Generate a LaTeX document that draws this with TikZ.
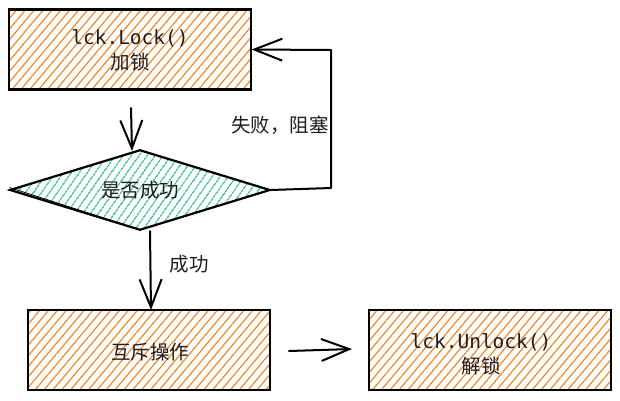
\documentclass[tikz,border=0pt]{standalone}
\usepackage{fontspec}
\newfontfamily\cjk{Noto Sans CJK SC}
\newfontfamily\mono{DejaVu Sans Mono}
\newcommand\mtxtf{\mono\fontsize{19.5}{25}\selectfont}
\newcommand\ctxtf{\cjk\fontsize{19.5}{25}\selectfont}
\usetikzlibrary{arrows.meta,patterns.meta,shapes.geometric}
\definecolor{hatchorange}{HTML}{FD7E14}
\definecolor{hatchgreen}{HTML}{12B886}
\definecolor{ink}{HTML}{1E1E1E}
\tikzset{
  boxo/.style={draw=black, line width=2.2pt, rectangle, inner sep=0pt,
    minimum width=242pt, minimum height=80pt,
    pattern={Lines[angle=50,distance=6.8pt,line width=1.1pt]}, pattern color=hatchorange},
  diam/.style={draw=black, line width=2.2pt, diamond, inner sep=0pt, shape aspect=3.25,
    minimum width=260pt, minimum height=80pt, text=ink,
    pattern={Lines[angle=55,distance=6.5pt,line width=1.1pt]}, pattern color=hatchgreen},
  btxt/.style={align=center, text=ink, inner sep=0pt, font=\fontsize{19.5}{25}\selectfont},
  conn/.style={line width=2pt, black, line cap=round, line join=round},
  arr/.style={conn, -{Straight Barb[length=28pt,width=22pt,line width=2pt]}},
  lbl/.style={text=ink, font=\cjk\fontsize{19.5}{22}\selectfont, inner sep=1pt}
}
\begin{document}
\begin{tikzpicture}[x=1pt,y=-1pt]
\useasboundingbox (0,0) rectangle (620,400);
% boxes
\node[boxo] (lock) at (130,49.5) {};
\node[btxt] (locktxt) at (130,50.5) {{\mtxtf lck.Lock()}\\{\ctxtf 加锁}};
\node[diam] (dia) at (140,190) {\ctxtf 是否成功};
\node[boxo] (op) at (149,350) {};
\node[btxt] (optxt) at (150,352) {\ctxtf 互斥操作};
\node[boxo] (unl) at (490,350) {};
\node[btxt] (unltxt) at (481,354.5) {{\mtxtf lck.Unlock()}\\{\ctxtf 解锁}};
% sketchy second stroke on diamond lower-left edge
\draw[line width=0.8pt] ([yshift=2.5pt]dia.west) -- ([xshift=-2pt,yshift=1.5pt]dia.south);
% coordinates
\coordinate (c1) at (331,188);
\coordinate (c2) at (331,50);
\coordinate (a1) at (131,108);
\coordinate (a2) at (132,151);
\coordinate (b1) at (150,231);
\coordinate (b2) at (151,310);
\coordinate (r1) at (289,351);
\coordinate (r2) at (352,349);
% connectors
\draw[arr] (dia.east) -- (c1) -- (c2) -- (lock.east);
\draw[arr] (a1) -- (a2);
\draw[arr] (b1) -- (b2);
\draw[arr] (r1) -- (r2);
% labels
\node[lbl] (fail) at (280,125) {失败，阻塞};
\node[lbl] (succ) at (189,264) {成功};
\end{tikzpicture}
\end{document}
